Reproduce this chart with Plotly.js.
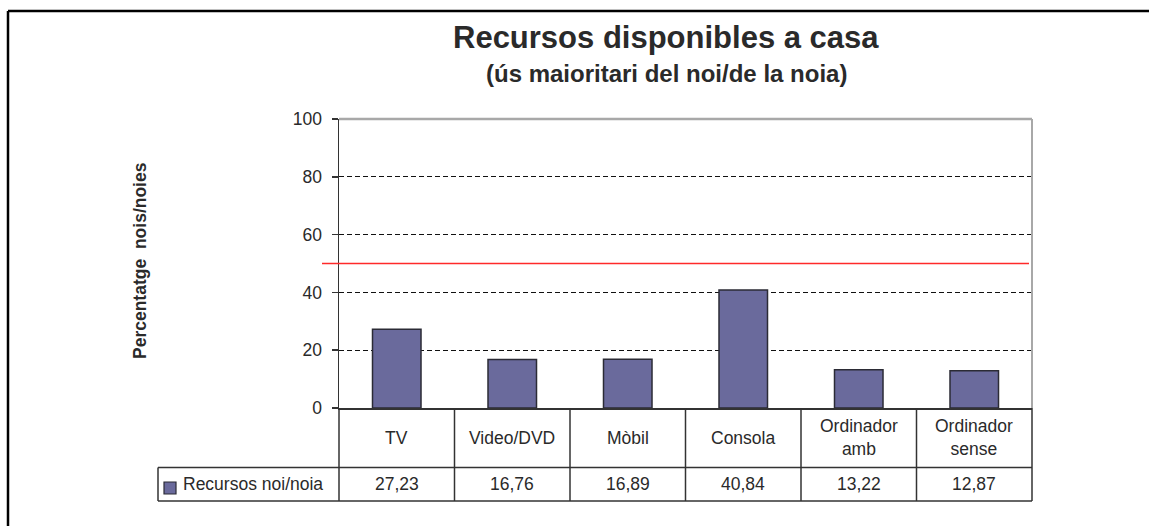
<!DOCTYPE html>
<html>
<head>
<meta charset="utf-8">
<script src="https://cdn.plot.ly/plotly-3.0.1.min.js"></script>
<style>
  html, body { margin: 0; padding: 0; background: #ffffff; }
  #chart { width: 1149px; height: 526px; }
</style>
</head>
<body>
<div id="chart"></div>
<script>
// ---- Data ----
const categories = ["TV", "Video/DVD", "Mòbil", "Consola", "Ordinador<br>amb", "Ordinador<br>sense"];
const values = [27.23, 16.76, 16.89, 40.84, 13.22, 12.87];
const seriesName = "Recursos noi/noia";
const yTicks = [0, 20, 40, 60, 80, 100];
const threshold = 50;
const titleText = "Recursos disponibles a casa";
const subtitleText = "(ús maioritari del noi/de la noia)";
const yTitleText = "Percentatge  nois/noies";

// ---- Layout geometry (pixels) ----
const W = 1149, H = 526;
const L = 339, R = 1032, T = 119, B = 408;
const px2x = p => (p - L) / (R - L);
const py2y = p => (B - p) / (B - T);

const FONT = "Liberation Sans, Arial, Helvetica, sans-serif";
const TXT = "#2a2a2a";
const LINE = "#333333";
const barColor = "#6A6A9C";

const row1Bottom = 467.5, row2Bottom = 501, legendLeft = 158;

const trace = {
  type: "bar",
  x: categories,
  y: values,
  name: seriesName,
  width: 0.42,
  marker: { color: barColor, line: { color: "#2b2b35", width: 1.5 } },
  hoverinfo: "x+y",
  showlegend: false
};

const shapes = [];
// red reference line
shapes.push({ type: "line", xref: "paper", yref: "y", x0: px2x(322), x1: px2x(1029), y0: threshold, y1: threshold,
  line: { color: "#ff2a2a", width: 1.5 }, layer: "above" });
// plot area top and right border (gray)
shapes.push({ type: "line", xref: "paper", yref: "paper", x0: 0, x1: 1, y0: 1, y1: 1, line: { color: "#a8a8a8", width: 2.5 }, layer: "above" });
shapes.push({ type: "line", xref: "paper", yref: "paper", x0: 1, x1: 1, y0: 0, y1: 1, line: { color: "#a8a8a8", width: 2 }, layer: "above" });
// data table lines
const n = categories.length;
for (let i = 0; i <= n; i++) {
  shapes.push({ type: "line", xref: "paper", yref: "paper", x0: i / n, x1: i / n, y0: 0, y1: py2y(row2Bottom),
    line: { color: LINE, width: 1.5 }, layer: "above" });
}
shapes.push({ type: "line", xref: "paper", yref: "paper", x0: px2x(legendLeft), x1: 1, y0: py2y(row1Bottom), y1: py2y(row1Bottom), line: { color: LINE, width: 1.5 } });
shapes.push({ type: "line", xref: "paper", yref: "paper", x0: px2x(legendLeft), x1: 1, y0: py2y(row2Bottom), y1: py2y(row2Bottom), line: { color: LINE, width: 1.5 } });
shapes.push({ type: "line", xref: "paper", yref: "paper", x0: px2x(legendLeft), x1: px2x(legendLeft), y0: py2y(row1Bottom), y1: py2y(row2Bottom), line: { color: LINE, width: 1.5 } });
// legend key
shapes.push({ type: "rect", xref: "paper", yref: "paper", x0: px2x(164), x1: px2x(176), y0: py2y(482), y1: py2y(494),
  fillcolor: barColor, line: { color: "#2b2b35", width: 1.2 } });
// outer frame (top and left)
shapes.push({ type: "line", xref: "paper", yref: "paper", x0: px2x(8), x1: px2x(1149), y0: py2y(11), y1: py2y(11), line: { color: "#000", width: 2.5 } });
shapes.push({ type: "line", xref: "paper", yref: "paper", x0: px2x(8), x1: px2x(8), y0: py2y(11), y1: py2y(526), line: { color: "#000", width: 2.5 } });

const annotations = [];
annotations.push({ xref: "paper", yref: "paper", x: px2x(666), y: py2y(37), text: titleText, showarrow: false,
  xanchor: "center", yanchor: "middle", font: { family: FONT, size: 31, color: TXT, weight: "bold" } });
annotations.push({ xref: "paper", yref: "paper", x: px2x(666), y: py2y(73), text: subtitleText, showarrow: false,
  xanchor: "center", yanchor: "middle", font: { family: FONT, size: 24, color: TXT, weight: "bold" } });
annotations.push({ xref: "paper", yref: "paper", x: px2x(140), y: py2y(261), text: yTitleText, showarrow: false, textangle: -90,
  xanchor: "center", yanchor: "middle", font: { family: FONT, size: 17.5, color: TXT, weight: "bold" } });
// table: category names and values
categories.forEach((c, i) => {
  annotations.push({ xref: "x", yref: "paper", x: c, y: py2y((B + row1Bottom) / 2), text: c, showarrow: false,
    xanchor: "center", yanchor: "middle", font: { family: FONT, size: 17.5, color: TXT } });
  annotations.push({ xref: "x", yref: "paper", x: c, y: py2y((row1Bottom + row2Bottom) / 2), text: values[i].toFixed(2).replace(".", ","),
    showarrow: false, xanchor: "center", yanchor: "middle", font: { family: FONT, size: 17.5, color: TXT } });
});
annotations.push({ xref: "paper", yref: "paper", x: px2x(181), y: py2y((row1Bottom + row2Bottom) / 2), text: seriesName, showarrow: false,
  xanchor: "left", yanchor: "middle", font: { family: FONT, size: 17.5, color: TXT } });

const layout = {
  width: W, height: H,
  margin: { l: L, r: W - R, t: T, b: H - B, pad: 0 },
  paper_bgcolor: "#ffffff",
  plot_bgcolor: "#ffffff",
  showlegend: false,
  font: { family: FONT, color: TXT },
  xaxis: {
    type: "category", range: [-0.5, n - 0.5], showticklabels: false, ticks: "",
    showgrid: false, zeroline: false, showline: true, linecolor: LINE, linewidth: 1.5, fixedrange: true
  },
  yaxis: {
    range: [0, 100], tickvals: yTicks, ticktext: yTicks.map(String),
    ticks: "outside", ticklen: 6, tickwidth: 1.5, tickcolor: LINE, ticklabelstandoff: 6,
    tickfont: { family: FONT, size: 17.5, color: TXT },
    showgrid: true, gridcolor: "#111", gridwidth: 1.2, griddash: "5px,3px",
    zeroline: false, showline: true, linecolor: LINE, linewidth: 1.5, fixedrange: true
  },
  shapes: shapes,
  annotations: annotations
};

Plotly.newPlot("chart", [trace], layout, { displayModeBar: false, staticPlot: true });
</script>
</body>
</html>
